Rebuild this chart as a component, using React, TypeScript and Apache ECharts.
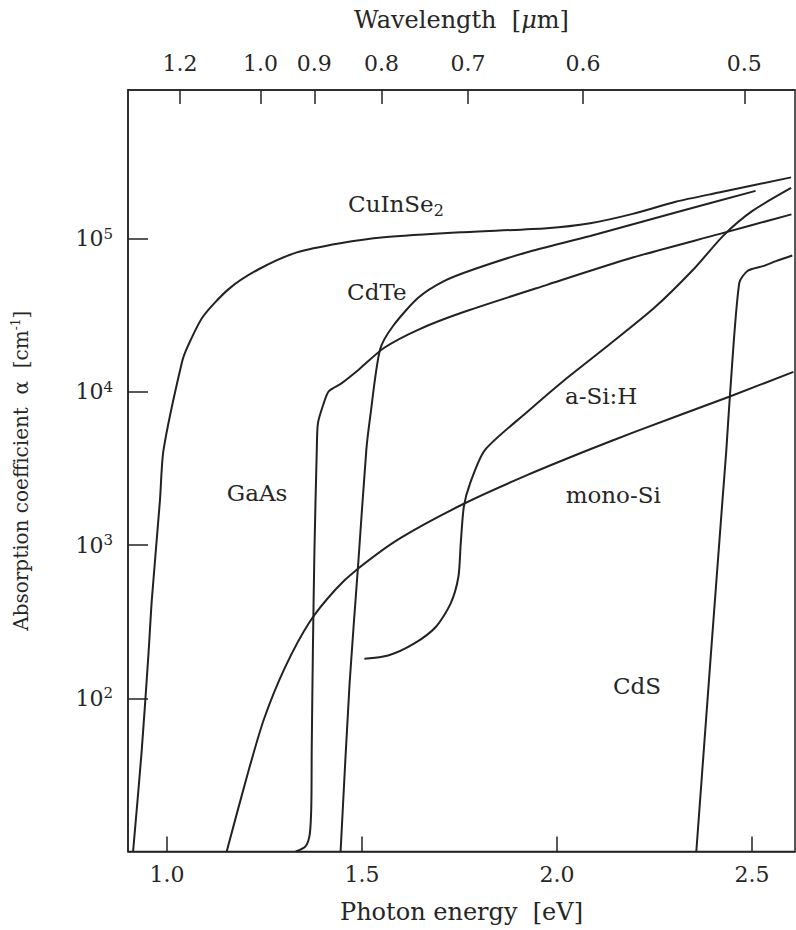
import { useEffect, useRef } from "react";
import * as echarts from "echarts";

// Axis ticks
const energyTicks = [1.0, 1.5, 2.0, 2.5];
const wavelengthTicks = [1.2, 1.0, 0.9, 0.8, 0.7, 0.6, 0.5];
const alphaTicks = [1e2, 1e3, 1e4, 1e5];

// Photon energy [eV] and absorption coefficient [cm^-1]
const cuinse2Energy = [0.913, 0.935, 0.953, 0.961, 0.982, 0.991, 1.038, 1.054, 1.092, 1.158, 1.235, 1.333, 1.444, 1.556, 1.753, 1.974, 2.085, 2.194, 2.304, 2.415, 2.6];
const cuinse2Alpha = [10, 45, 204, 437, 1970, 4170, 15500, 20000, 30900, 46800, 63100, 81300, 93300, 102000, 110000, 117000, 126000, 145000, 174000, 200000, 251000];

const cdteEnergy = [1.445, 1.468, 1.49, 1.511, 1.521, 1.546, 1.579, 1.644, 1.71, 1.787, 1.919, 2.085, 2.304, 2.509];
const cdteAlpha = [10, 124, 741, 4180, 6900, 18800, 26800, 41100, 52800, 63100, 80900, 104000, 148000, 205000];

const gaasEnergy = [1.33, 1.355, 1.366, 1.37, 1.371, 1.374, 1.378, 1.384, 1.387, 1.402, 1.415, 1.448, 1.492, 1.557, 1.645, 1.755, 1.976, 2.194, 2.415, 2.601];
const gaasAlpha = [10, 10.8, 13, 20, 45.5, 205, 927, 4180, 6250, 8450, 10100, 11400, 14000, 19400, 25500, 32800, 50100, 75200, 107000, 144000];

const asihEnergy = [1.506, 1.567, 1.633, 1.689, 1.727, 1.747, 1.753, 1.761, 1.777, 1.815, 1.924, 2.02, 2.13, 2.25, 2.35, 2.427, 2.5, 2.6];
const asihAlpha = [181, 190, 227, 292, 415, 619, 1020, 1780, 2530, 4170, 7410, 12000, 20000, 35500, 63100, 105000, 151000, 214000];

const monoSiEnergy = [1.153, 1.206, 1.248, 1.302, 1.366, 1.432, 1.487, 1.596, 1.761, 1.926, 2.08, 2.201, 2.443, 2.606];
const monoSiAlpha = [10, 31.6, 72.4, 158, 316, 513, 692, 1100, 1860, 2880, 4170, 5500, 9330, 13500];

const cdsEnergy = [2.357, 2.395, 2.424, 2.434, 2.443, 2.467, 2.489, 2.528, 2.561, 2.603];
const cdsAlpha = [10, 204, 1950, 4180, 9330, 51300, 61700, 66100, 71300, 77600];

// Curve name annotations: text and anchor in data coordinates (eV, cm^-1)
const labelTexts = ["CuInSe{sub|2}", "CdTe", "a-Si:H", "GaAs", "mono-Si", "CdS"];
const labelEnergy = [1.587, 1.538, 2.113, 1.231, 2.144, 2.205];
const labelAlpha = [168000, 44800, 9400, 2190, 2120, 120];

const curves = [
  { name: "CuInSe2", e: cuinse2Energy, a: cuinse2Alpha },
  { name: "CdTe", e: cdteEnergy, a: cdteAlpha },
  { name: "GaAs", e: gaasEnergy, a: gaasAlpha },
  { name: "a-Si:H", e: asihEnergy, a: asihAlpha },
  { name: "mono-Si", e: monoSiEnergy, a: monoSiAlpha },
  { name: "CdS", e: cdsEnergy, a: cdsAlpha },
];

const HC = 1.24; // eV·µm

export default function App() {
  const ref = useRef<HTMLDivElement>(null);
  useEffect(() => {
    if (!ref.current) return;
    const chart = echarts.init(ref.current, undefined, { renderer: "svg" });
    const serif = "DejaVu Serif";
    const ink = "#222";
    const txt = "#262626";
    const axisLine = { show: true, lineStyle: { color: ink, width: 1.5 } };

    const lineSeries = curves.map((c) => ({
      type: "line",
      name: c.name,
      data: c.e.map((x, i) => [x, c.a[i]]),
      showSymbol: false,
      symbol: "none",
      smooth: 0.25,
      clip: true,
      lineStyle: { color: ink, width: 2 },
      silent: true,
    }));

    const labelSeries = {
      type: "scatter",
      symbolSize: 1,
      itemStyle: { color: "#fff", opacity: 0 },
      silent: true,
      data: labelTexts.map((t, i) => ({
        value: [labelEnergy[i], labelAlpha[i]],
        label: { formatter: t },
      })),
      label: {
        show: true,
        position: "inside",
        fontFamily: serif,
        fontSize: 23,
        color: txt,
        opacity: 1,
        textBorderWidth: 0,
        rich: {
          sub: { fontFamily: serif, fontSize: 16, color: txt, textBorderWidth: 0, padding: [12, 0, 0, 0] },
        },
      },
    };

    chart.setOption({
      animation: false,
      textStyle: { fontFamily: serif },
      grid: {
        left: 128,
        top: 90,
        width: 667,
        height: 761.5,
        show: true,
        borderColor: ink,
        borderWidth: 1.5,
        backgroundColor: "transparent",
      },
      xAxis: [
        {
          type: "value",
          min: 0.9,
          max: 2.61,
          position: "bottom",
          axisLine,
          splitLine: { show: false },
          axisTick: {
            show: true,
            inside: true,
            length: 15,
            customValues: energyTicks,
            lineStyle: { color: ink, width: 1.5 },
          },
          axisLabel: {
            customValues: energyTicks,
            formatter: (v: number) => v.toFixed(1),
            margin: 12,
            fontFamily: serif,
            fontSize: 22,
            color: txt,
          },
          name: "{t|Photon energy  [eV]}",
          nameLocation: "middle",
          nameGap: 48,
          nameTextStyle: {
            fontFamily: serif,
            fontSize: 24,
            color: txt,
            rich: { t: { fontFamily: serif, fontSize: 24, color: txt } },
          },
        },
        {
          type: "value",
          min: 0.9,
          max: 2.61,
          position: "top",
          axisLine,
          splitLine: { show: false },
          axisTick: {
            show: true,
            inside: true,
            length: 14,
            customValues: wavelengthTicks.map((l) => HC / l),
            lineStyle: { color: ink, width: 1.5 },
          },
          axisLabel: {
            customValues: wavelengthTicks.map((l) => HC / l),
            formatter: (v: number) => (HC / v).toFixed(1),
            margin: 16,
            fontFamily: serif,
            fontSize: 22,
            color: txt,
          },
          name: "{t|Wavelength  [}{i|μ}{t|m]}",
          nameLocation: "middle",
          nameGap: 58,
          nameTextStyle: {
            fontFamily: serif,
            fontSize: 24,
            color: txt,
            rich: {
              t: { fontFamily: serif, fontSize: 24, color: txt },
              i: { fontFamily: serif, fontStyle: "italic", fontSize: 24, color: txt },
            },
          },
        },
      ],
      yAxis: {
        type: "log",
        logBase: 10,
        min: 10,
        max: 933000,
        axisLine,
        splitLine: { show: false },
        axisTick: {
          show: true,
          inside: true,
          length: 20,
          customValues: alphaTicks,
          lineStyle: { color: ink, width: 1.5 },
        },
        axisLabel: {
          customValues: alphaTicks,
          formatter: (v: number) => `{b|10}{s|${Math.round(Math.log10(v))}}`,
          margin: 15,
          rich: {
            b: { fontFamily: serif, fontSize: 22, color: txt },
            s: { fontFamily: serif, fontSize: 15, color: txt, padding: [0, 0, 10, 0] },
          },
        },
        name: "{t|Absorption coefficient  α  [cm}{sup|-1}{t|]}",
        nameLocation: "middle",
        nameRotate: 90,
        nameGap: 96,
        nameTextStyle: {
          fontFamily: serif,
          fontSize: 20,
          color: txt,
          rich: {
            t: { fontFamily: serif, fontSize: 20, color: txt },
            sup: { fontFamily: serif, fontSize: 12, color: txt, padding: [0, 0, 10, 0] },
          },
        },
      },
      series: [...lineSeries, labelSeries],
    });
    return () => chart.dispose();
  }, []);

  return (
    <div
      ref={ref}
      style={{ position: "fixed", left: 0, top: 0, width: 796, height: 930, background: "#fff" }}
    />
  );
}
